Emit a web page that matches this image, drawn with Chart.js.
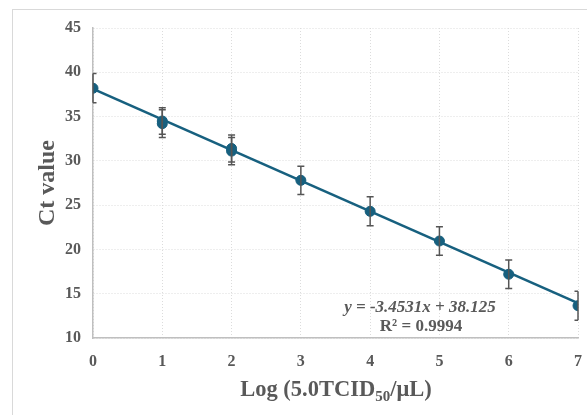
<!DOCTYPE html>
<html>
<head>
<meta charset="utf-8">
<script src="https://cdn.jsdelivr.net/npm/chart.js@4"></script>
<style>
  html, body { margin: 0; padding: 0; background: #fff; overflow: hidden; }
  #wrap { width: 587px; height: 415px; position: relative; }
  canvas { display: block; }
</style>
</head>
<body>
<div id="wrap"><canvas id="chart"></canvas></div>
<script>
// --------- Data ---------
const logConc = [0, 1, 2, 3, 4, 5, 6, 7];
const ctMean = [38.2, 34.5, 31.4, 27.8, 24.3, 20.95, 17.2, 13.65];
const ctSd = [1.65, 1.5, 1.53, 1.6, 1.64, 1.62, 1.62, 1.64];
// replicate markers that sit just under the means at 1 and 2
const ctRep = [null, 34.2, 31.1, null, null, null, null, null];
const ctRepSd = [null, 1.57, 1.53, null, null, null, null, null];
const fitX = [0, 7];
const fitY = [38.125, 13.95];
const xTicks = [0, 1, 2, 3, 4, 5, 6, 7];
const yTicks = [10, 15, 20, 25, 30, 35, 40, 45];

const BLUE = '#17607f';
const TXT = '#595959';
const SERIF = "'Liberation Serif', 'Times New Roman', serif";

const toPts = (ys) => logConc.map((x, i) => ({ x: x, y: ys[i] })).filter(p => p.y !== null);

// --------- Plugins ---------
const frame = {
  id: 'frame',
  beforeDraw(chart) {
    const c = chart.ctx;
    c.save();
    c.fillStyle = '#fff';
    c.fillRect(0, 0, chart.width, chart.height);
    c.strokeStyle = '#d9d9d9';
    c.lineWidth = 1;
    c.strokeRect(12.5, 9.5, 640, 500);
    c.restore();
  }
};

const errorBars = {
  id: 'errorBars',
  afterDatasetsDraw(chart) {
    const c = chart.ctx, xs = chart.scales.x, ys = chart.scales.y;
    c.save();
    c.strokeStyle = '#555';
    c.lineWidth = 1.5;
    const draw = (vals, sds) => {
      vals.forEach((v, i) => {
        if (v === null) return;
        const px = xs.getPixelForValue(logConc[i]);
        const top = ys.getPixelForValue(v + sds[i]);
        const bot = ys.getPixelForValue(v - sds[i]);
        const left = i === 0 ? px : px - 3.5;
        const right = i === logConc.length - 1 ? px : px + 3.5;
        c.beginPath();
        c.moveTo(px, top); c.lineTo(px, bot);
        c.moveTo(left, top); c.lineTo(right, top);
        c.moveTo(left, bot); c.lineTo(right, bot);
        c.stroke();
      });
    };
    draw(ctMean, ctSd);
    draw(ctRep, ctRepSd);
    c.restore();
  }
};

const labels = {
  id: 'labels',
  afterDraw(chart) {
    const c = chart.ctx;
    const area = chart.chartArea;
    c.save();
    c.fillStyle = TXT;
    c.textBaseline = 'alphabetic';

    // y title
    c.save();
    c.translate(54, (area.top + area.bottom) / 2);
    c.rotate(-Math.PI / 2);
    c.textAlign = 'center';
    c.font = 'bold 24px ' + SERIF;
    c.fillText('Ct value', 0, 0);
    c.restore();

    // x title with subscript
    const big = 'bold 22.5px ' + SERIF, small = 'bold 15px ' + SERIF;
    const parts = [['Log (5.0TCID', big, 0], ['50', small, 5], ['/μL)', big, 0]];
    let w = 0;
    parts.forEach(p => { c.font = p[1]; w += c.measureText(p[0]).width; });
    let x = 336 - w / 2;
    const base = 396;
    c.textAlign = 'left';
    parts.forEach(p => { c.font = p[1]; c.fillText(p[0], x, base + p[2]); x += c.measureText(p[0]).width; });

    // trendline equation
    c.textAlign = 'center';
    c.font = 'italic bold 17px ' + SERIF;
    c.fillText('y = -3.4531x + 38.125', 420, 312);
    c.font = 'bold 17px ' + SERIF;
    c.fillText('R² = 0.9994', 421, 331);
    c.restore();
  }
};

// --------- Chart ---------
new Chart(document.getElementById('chart'), {
  type: 'scatter',
  data: {
    datasets: [
      {
        label: 'Fit', type: 'line', data: fitX.map((x, i) => ({ x: x, y: fitY[i] })),
        borderColor: BLUE, borderWidth: 2.5, pointRadius: 0, fill: false
      },
      {
        label: 'Ct', data: toPts(ctMean),
        backgroundColor: BLUE, borderColor: BLUE, pointRadius: 5, pointHoverRadius: 5
      },
      {
        label: 'Ct rep', data: toPts(ctRep),
        backgroundColor: BLUE, borderColor: BLUE, pointRadius: 5, pointHoverRadius: 5
      }
    ]
  },
  options: {
    responsive: true,
    maintainAspectRatio: false,
    animation: false,
    layout: { padding: { left: 0, right: 9, top: 28, bottom: 0 } },
    plugins: { legend: { display: false }, tooltip: { enabled: false } },
    scales: {
      x: {
        type: 'linear', min: 0, max: 7,
        afterBuildTicks: (s) => { s.ticks = xTicks.map(v => ({ value: v })); },
        afterFit: (s) => { s.height = 77; s.paddingLeft = 0; s.paddingRight = 0; },
        ticks: { color: TXT, font: { family: SERIF, size: 16, weight: 'bold' }, padding: 14 },
        grid: { color: '#dcdcdc', drawTicks: false },
        border: { color: '#bfbfbf', width: 1.5, dash: [1, 2] }
      },
      y: {
        type: 'linear', min: 10, max: 45,
        afterBuildTicks: (s) => { s.ticks = yTicks.map(v => ({ value: v })); },
        afterFit: (s) => { s.width = 93; s.paddingTop = 0; s.paddingBottom = 0; },
        ticks: { color: TXT, font: { family: SERIF, size: 16, weight: 'bold' }, padding: 12 },
        grid: { color: '#dcdcdc', drawTicks: false },
        border: { color: '#bfbfbf', width: 1.5, dash: [1, 2] }
      }
    }
  },
  plugins: [frame, errorBars, labels]
});
</script>
</body>
</html>
